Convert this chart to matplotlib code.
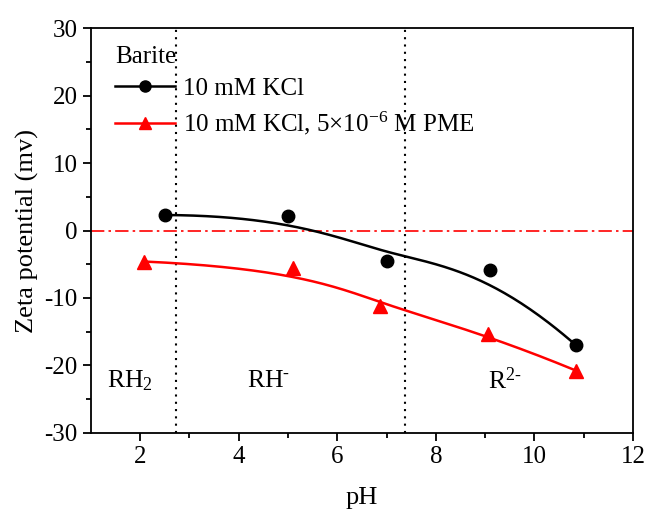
import numpy as np
import matplotlib.pyplot as plt

plt.rcParams['font.family'] = ['Liberation Serif', 'DejaVu Serif']
plt.rcParams['mathtext.fontset'] = 'custom'
plt.rcParams['mathtext.rm'] = 'Liberation Serif'
plt.rcParams['mathtext.it'] = 'Liberation Serif:italic'
plt.rcParams['axes.unicode_minus'] = False

# Data
ph_kcl = [2.51, 5.0, 7.01, 9.1, 10.84]
zeta_kcl = [2.3, 2.2, -4.5, -5.9, -17.0]
ph_pme = [2.09, 5.1, 6.86, 9.06, 10.85]
zeta_pme = [-4.6, -5.6, -11.2, -15.4, -20.8]
pka_lines = [2.73, 7.37]
species = ['RH$_2$', r'RH$^{\text{-}}$', r'R$^{2\text{-}}$']
species_x = [1.8, 4.6, 9.4]


def bspline(xs, ys, n=200, k=3):
    # clamped B-spline using the data points as control points (Origin "B-Spline" connect)
    P = np.column_stack([xs, ys])
    m = len(P)
    knots = np.concatenate([np.zeros(k), np.linspace(0, 1, m - k + 1), np.ones(k)])
    t = np.linspace(0, 1 - 1e-9, n)
    out = []
    for u in t:
        j = np.searchsorted(knots, u, side='right') - 1
        j = min(max(j, k), m - 1)
        d = [P[j - k + i].copy() for i in range(k + 1)]
        for r in range(1, k + 1):
            for i in range(k, r - 1, -1):
                a = (u - knots[i + j - k]) / (knots[i + 1 + j - r] - knots[i + j - k])
                d[i] = (1 - a) * d[i - 1] + a * d[i]
        out.append(d[k])
    out.append(P[-1])
    out = np.array(out)
    return out[:, 0], out[:, 1]


fig = plt.figure(figsize=(6.48, 5.14), dpi=100)
ax = fig.add_axes([0.140, 0.158, 0.837, 0.787])

bx, by = bspline(ph_kcl, zeta_kcl)
rx, ry = bspline(ph_pme, zeta_pme)

ax.axhline(0, color='red', lw=1.2, ls=(0, (8, 2.5, 1.5, 2.5)))
for x in pka_lines:
    ax.axvline(x, color='black', lw=1.5, ls=(0, (1, 2.5)))

ax.plot(bx, by, color='black', lw=1.8)
ax.plot(ph_kcl, zeta_kcl, 'o', color='black', ms=9)
ax.plot(rx, ry, color='red', lw=1.8)
ax.plot(ph_pme, zeta_pme, '^', color='red', ms=9.5)

# legend proxies
h1, = ax.plot([], [], '-o', color='black', lw=1.8, ms=8)
h2, = ax.plot([], [], '-^', color='red', lw=1.8, ms=8.5)
leg = ax.legend([h1, h2], ['10 mM KCl', '10 mM KCl, 5×10$^{-6}$ M PME'],
                title='Barite', loc='upper left', frameon=False, fontsize=18,
                title_fontsize=18, alignment='left', handlelength=2.4,
                handletextpad=0.3, labelspacing=0.38, borderaxespad=0.3,
                bbox_to_anchor=(0.013, 1.0))
leg._legend_box.sep = 7

for s, x in zip(species, species_x):
    ax.text(x, -22.3, s, fontsize=18.5, ha='center', va='center')

ax.set_xlim(1, 12)
ax.set_ylim(-30, 30)
ax.set_xticks([2, 4, 6, 8, 10, 12])
ax.set_xticks([3, 5, 7, 9, 11], minor=True)
ax.set_yticks(np.arange(-30, 31, 10))
ax.set_yticks(np.arange(-25, 30, 10), minor=True)
ax.tick_params(which='major', direction='out', length=6, width=1.3, labelsize=18)
ax.tick_params(which='minor', direction='out', length=3.5, width=1.3)
for sp in ax.spines.values():
    sp.set_linewidth(1.3)

ax.set_xlabel('pH', fontsize=19, labelpad=14)
ax.set_ylabel('Zeta potential (mv)', fontsize=19, labelpad=4)

fig.savefig('out.png', dpi=100)
